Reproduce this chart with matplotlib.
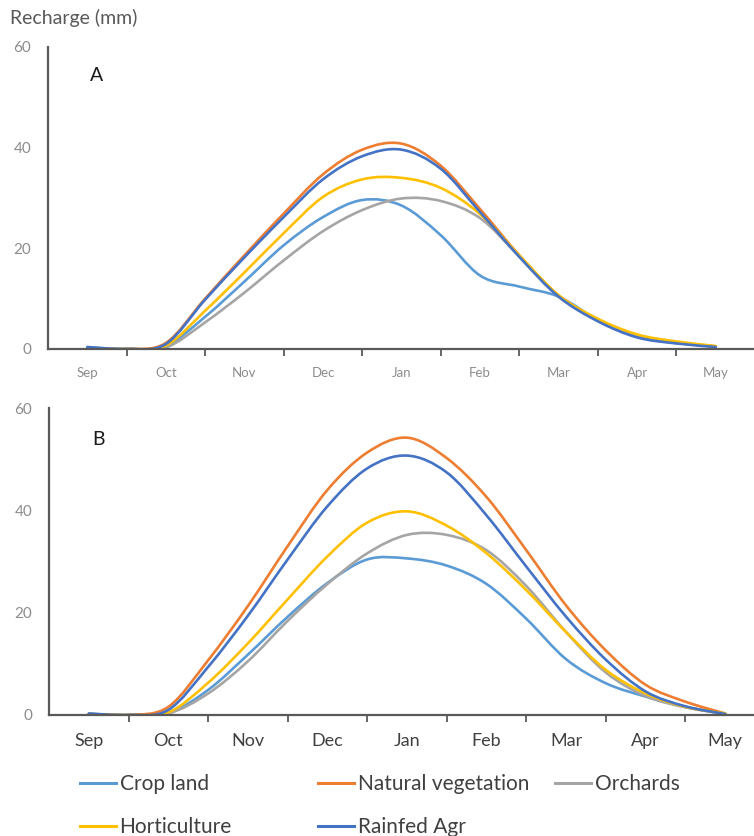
import matplotlib
matplotlib.use("Agg")
import matplotlib.pyplot as plt
from matplotlib.path import Path
from matplotlib.patches import PathPatch
from matplotlib.lines import Line2D
import numpy as np

# half-month steps from Sep to May (index 0 = Sep, 8 = May)
months = ["Sep", "Oct", "Nov", "Dec", "Jan", "Feb", "Mar", "Apr", "May"]
steps = np.arange(0, 8.5, 0.5)

series_names = ["Crop land", "Natural vegetation", "Orchards", "Horticulture", "Rainfed Agr"]
colors = ["#5B9BD5", "#ED7D31", "#A5A5A5", "#FFC000", "#4472C4"]

# panel A (mm)
crop_a = [0.3, 0.0, 0.6, 6.4, 13.4, 20.6, 26.2, 29.6, 28.5, 22.6, 14.6, 12.4, 10.4, 5.8, 2.5, 1.3, 0.5]
natural_a = [0.2, 0.0, 1.2, 10.0, 18.6, 26.9, 34.7, 39.6, 40.8, 36.4, 27.8, 18.6, 10.6, 5.7, 2.5, 1.2, 0.5]
orchards_a = [0.2, 0.0, 0.3, 5.3, 11.2, 17.6, 23.4, 27.6, 29.9, 29.4, 26.0, 18.4, 10.4, 5.8, 2.5, 1.3, 0.5]
horti_a = [0.2, 0.0, 0.7, 7.6, 15.2, 23.0, 30.2, 33.7, 34.0, 32.0, 26.8, 18.6, 10.7, 6.0, 2.9, 1.5, 0.6]
rainfed_a = [0.4, 0.0, 1.0, 9.8, 18.2, 26.2, 33.7, 38.3, 39.6, 35.8, 27.2, 18.3, 10.4, 5.5, 2.3, 1.1, 0.4]

# panel B (mm)
crop_b = [0.2, 0.0, 0.4, 4.9, 11.8, 19.2, 25.8, 30.4, 30.6, 29.2, 25.6, 18.8, 10.9, 6.2, 3.6, 1.6, 0.2]
natural_b = [0.2, 0.0, 1.6, 10.7, 21.3, 33.0, 44.0, 51.3, 54.2, 50.2, 42.6, 32.2, 21.4, 12.6, 5.9, 2.6, 0.3]
orchards_b = [0.2, 0.0, 0.3, 4.2, 10.5, 18.4, 25.6, 31.6, 35.2, 35.2, 32.2, 25.2, 16.2, 8.3, 3.7, 1.5, 0.2]
horti_b = [0.2, 0.0, 0.5, 6.3, 14.0, 22.6, 31.0, 37.6, 39.8, 37.0, 31.6, 24.4, 16.2, 8.8, 4.2, 1.6, 0.3]
rainfed_b = [0.3, 0.0, 1.0, 9.4, 19.4, 30.4, 40.8, 48.2, 50.7, 47.4, 39.0, 29.0, 19.2, 10.8, 4.6, 1.7, 0.2]

yticks = [0, 20, 40, 60]

FONT = ["Lato", "DejaVu Sans"]
AXIS_GREY = "#595959"


def smooth_line(ax, x, y, color):
    # Excel-style smoothed line: Catmull-Rom segments drawn as cubic Bezier curves
    x = np.asarray(x, float)
    y = np.asarray(y, float)
    n = len(x)
    verts = [(x[0], y[0])]
    codes = [Path.MOVETO]
    for i in range(n - 1):
        a = max(i - 1, 0)
        b = min(i + 2, n - 1)
        c1 = (x[i] + (x[i + 1] - x[a]) / 6, y[i] + (y[i + 1] - y[a]) / 6)
        c2 = (x[i + 1] - (x[b] - x[i]) / 6, y[i + 1] - (y[b] - y[i]) / 6)
        verts += [c1, c2, (x[i + 1], y[i + 1])]
        codes += [Path.CURVE4] * 3
    ax.add_patch(PathPatch(Path(verts, codes), fill=False, edgecolor=color, lw=1.9,
                           capstyle="round", joinstyle="round"))


def panel(ax, data, label, label_y, xfs, xcolor, xpad):
    for vals, c in zip(data, colors):
        smooth_line(ax, steps, vals, c)
    ax.set_xlim(-0.5, 8.5)
    ax.set_ylim(0, 60)
    ax.set_yticks(yticks)
    ax.tick_params(axis="y", length=0, pad=12, labelsize=11, labelcolor="#8c8c8c")
    ax.set_xticks(range(len(months)))
    ax.set_xticklabels(months)
    ax.set_xticks(np.arange(0.5, 8.0, 1.0), minor=True)
    ax.tick_params(axis="x", which="major", length=0, pad=xpad, labelsize=xfs, labelcolor=xcolor)
    ax.tick_params(axis="x", which="minor", length=5, width=1.3, color=AXIS_GREY, direction="out")
    for s in ["top", "right"]:
        ax.spines[s].set_visible(False)
    for s in ["left", "bottom"]:
        ax.spines[s].set_color(AXIS_GREY)
        ax.spines[s].set_linewidth(1.6)
    for t in ax.get_xticklabels() + ax.get_yticklabels():
        t.set_family(FONT)
    ax.text(0.069, label_y, label, transform=ax.transAxes, fontsize=14, family=FONT,
            color="#1a1a1a", ha="center", va="center")


def main():
    plt.rcParams["font.family"] = FONT
    fig = plt.figure(figsize=(7.54, 8.36), dpi=100)

    ax_a = fig.add_axes([48 / 754, 1 - 349 / 836, 707 / 754, 302 / 836])
    ax_b = fig.add_axes([49 / 754, 1 - 715 / 836, 716 / 754, 307 / 836])

    panel(ax_a, [crop_a, natural_a, orchards_a, horti_a, rainfed_a], "A", 0.907, 9.5, "#8c8c8c", 13)
    panel(ax_b, [crop_b, natural_b, orchards_b, horti_b, rainfed_b], "B", 0.896, 13, "#404040", 13)

    fig.text(10 / 754, 1 - 18 / 836, "Recharge (mm)", fontsize=14, color="#595959", va="center", ha="left")

    handles = [Line2D([], [], color=c, lw=2.2) for c in colors]
    cols = [([0, 3], 80), ([1, 4], 318), ([2], 555)]
    for idx, xpx in cols:
        leg = fig.legend([handles[i] for i in idx], [series_names[i] for i in idx],
                         loc="upper left", bbox_to_anchor=(xpx / 754, 1 - 774 / 836),
                         frameon=False, fontsize=15, handlelength=1.75, handletextpad=0.15,
                         labelspacing=1.12, borderpad=0, borderaxespad=0)
        for t in leg.get_texts():
            t.set_color("#404040")

    fig.savefig("out.png", dpi=100)


if __name__ == "__main__":
    main()
